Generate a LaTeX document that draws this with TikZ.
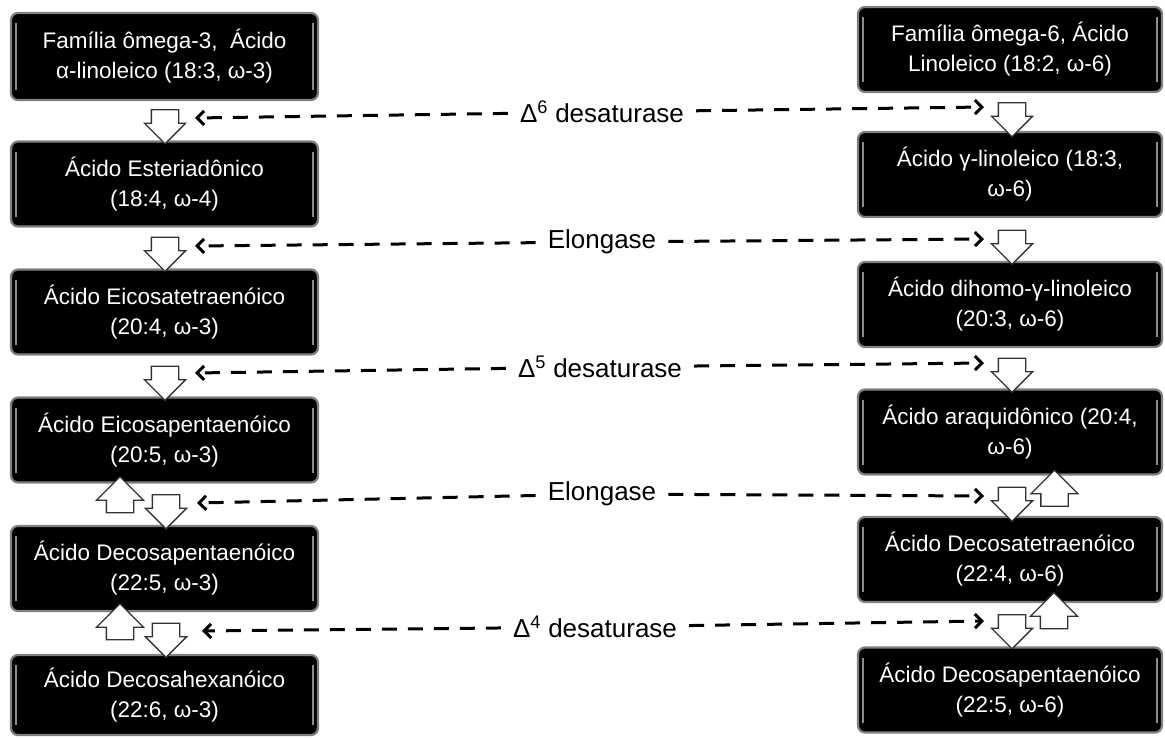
\documentclass[tikz,border=0pt]{standalone}
\usepackage{fontspec}
\setmainfont{Liberation Sans}
\usetikzlibrary{shapes.arrows,arrows.meta}
\tikzset{
  box/.style={fill=black, draw=black!50, line width=2.2pt, rounded corners=7pt,
    text=white, align=center, font=\fontsize{22.5}{30}\selectfont,
    minimum height=85pt, inner sep=0pt,
    path picture={
      \draw[black!45, line width=1.6pt, sharp corners]
        ([xshift=5pt,yshift=-10pt]path picture bounding box.north west) --
        ([xshift=5pt,yshift=10pt]path picture bounding box.south west);
      \draw[black!45, line width=1.6pt, sharp corners]
        ([xshift=-5pt,yshift=-10pt]path picture bounding box.north east) --
        ([xshift=-5pt,yshift=10pt]path picture bounding box.south east);}},
  lbox/.style={box, minimum width=307pt},
  rbox/.style={box, minimum width=304pt},
  downarr/.style={single arrow, draw=black!80, fill=white, line width=1.3pt,
    rotate=-90, minimum height=34pt, inner xsep=0pt, inner ysep=13pt,
    single arrow head extend=7pt, single arrow head indent=0pt, sharp corners},
  uparr/.style={single arrow, draw=black!80, fill=white, line width=1.3pt,
    rotate=90, minimum height=36pt, inner xsep=0pt, inner ysep=13pt,
    single arrow head extend=10pt, single arrow head indent=0pt, sharp corners},
  enz/.style={font=\fontsize{26}{30}\selectfont, inner xsep=12pt, inner ysep=2pt},
  dashline/.style={line width=3pt, dash pattern=on 15pt off 11pt,
    -{Straight Barb[length=7pt,width=14pt]}},
}
\begin{document}
\begin{tikzpicture}[x=1pt,y=-1pt]
\useasboundingbox (0,0) rectangle (1165,737);
% left column
\node[lbox, minimum height=87pt] (L1) at (164.5,56.5) {Família ômega-3,~ Ácido\\α-linoleico (18:3, ω-3)};
\node[lbox] (L2) at (164.5,184) {Ácido Esteriadônico\\(18:4, ω-4)};
\node[lbox] (L3) at (164.5,312) {Ácido Eicosatetraenóico\\(20:4, ω-3)};
\node[lbox] (L4) at (164.5,440) {Ácido Eicosapentaenóico\\(20:5, ω-3)};
\node[lbox] (L5) at (164.5,568.5) {Ácido Decosapentaenóico\\(22:5, ω-3)};
\node[lbox, minimum height=80pt] (L6) at (164.5,695) {Ácido Decosahexanóico\\(22:6, ω-3)};
% right column
\node[rbox] (R1) at (1010,49.5) {Família ômega-6, Ácido\\Linoleico (18:2, ω-6)};
\node[rbox] (R2) at (1010,174.5) {Ácido γ-linoleico (18:3,\\ω-6)};
\node[rbox] (R3) at (1010,304.5) {Ácido dihomo-γ-linoleico\\(20:3, ω-6)};
\node[rbox] (R4) at (1010,432) {Ácido araquidônico (20:4,\\ω-6)};
\node[rbox] (R5) at (1010,559.5) {Ácido Decosatetraenóico\\(22:4, ω-6)};
\node[rbox] (R6) at (1010,690) {Ácido Decosapentaenóico\\(22:5, ω-6)};
% block arrows left
\node[downarr] (aL1) at (165,120) {};
\node[downarr] (aL2) at (165,247.5) {};
\node[downarr] (aL3) at (165,376.5) {};
\node[downarr] (aL4) at (166,505) {};
\node[uparr] (uL4) at (120,501.5) {};
\node[downarr] (aL5) at (166,633.5) {};
\node[uparr] (uL5) at (120,628.5) {};
% block arrows right
\node[downarr] (aR1) at (1012,113) {};
\node[downarr] (aR2) at (1012,240.5) {};
\node[downarr] (aR3) at (1012,368.5) {};
\node[downarr] (aR4) at (1012,497.5) {};
\node[uparr] (uR4) at (1054.5,495) {};
\node[downarr] (aR5) at (1012,625) {};
\node[uparr] (uR5) at (1054,617.5) {};
% enzyme labels
\node[enz] (t1) at (602,112) {Δ\textsuperscript{6} desaturase};
\node[enz] (t2) at (602,242) {Elongase};
\node[enz] (t3) at (600,367) {Δ\textsuperscript{5} desaturase};
\node[enz] (t4) at (602,494) {Elongase};
\node[enz] (t5) at (595,627) {Δ\textsuperscript{4} desaturase};
% dashed connector ends
\coordinate (cL1) at (195,118);  \coordinate (cR1) at (984,107);
\coordinate (cL2) at (195,246);  \coordinate (cR2) at (984,239);
\coordinate (cL3) at (195,373);  \coordinate (cR3) at (984,363);
\coordinate (cL4) at (197,503);  \coordinate (cR4) at (984,496);
\coordinate (cL5) at (202,631);  \coordinate (cR5) at (984,621);
\foreach \i in {1,...,5}{
  \draw[dashline] (t\i) -- (cL\i);
  \draw[dashline] (t\i) -- (cR\i);
}
\end{tikzpicture}
\end{document}
